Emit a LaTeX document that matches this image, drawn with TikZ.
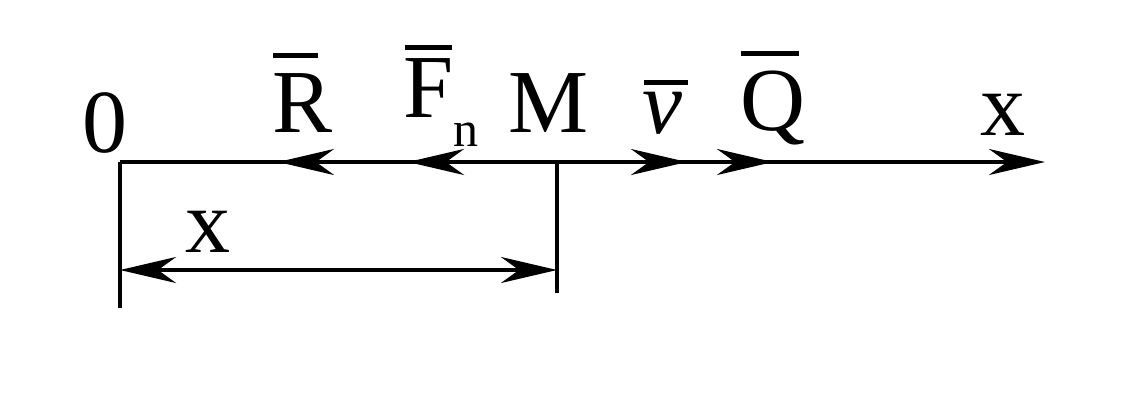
\documentclass[tikz,border=0pt]{standalone}
\usepackage{fontspec}
\setmainfont{Liberation Serif}
\usetikzlibrary{arrows.meta}
\newcommand{\ovbar}[4]{\leavevmode\rlap{\hspace*{#1}\raisebox{#2}{\rule{#3}{2.5pt}}}#4}
\begin{document}
\begin{tikzpicture}[x=0.5pt,y=-0.5pt,
  tip/.style={-{Stealth[length=28pt,width=13pt,inset=9pt]}},
  dtip/.style={{Stealth[length=28pt,width=13pt,inset=9pt]}-{Stealth[length=28pt,width=13pt,inset=9pt]}},
  ln/.style={line width=2pt},
  lbl/.style={inner sep=0pt,anchor=base,font=\fontsize{45}{54}\selectfont}]
\useasboundingbox (0,0) rectangle (1137,409);
\coordinate (O) at (120,162);
\coordinate (M) at (557,162);
\coordinate (E) at (1045,162);
\coordinate (Ob) at (120,308);
\coordinate (Mb) at (557,293);
\coordinate (D1) at (120,270);
\coordinate (D2) at (557,270);
\coordinate (Rt) at (278,162);
\coordinate (Ft) at (408,162);
\coordinate (Vt) at (687,162);
\coordinate (Qt) at (773,162);
% axis and verticals
\draw[ln,tip] (O) -- (E);
\draw[ln] (O) -- (Ob);
\draw[ln] (M) -- (Mb);
% vectors
\draw[ln,tip] (M) -- (Rt);
\draw[ln,tip] (M) -- (Ft);
\draw[ln,tip] (M) -- (Vt);
\draw[ln,tip] (M) -- (Qt);
% dimension
\draw[ln,dtip] (D1) -- (D2);
% labels
\node[lbl] (zero) at (105,152) {0};
\node[lbl] (R) at (303,132) {\ovbar{0pt}{37pt}{22.5pt}{R}};
\node[lbl,anchor=base west] (F) at (403,117) {\ovbar{1pt}{33.5pt}{23.5pt}{F}\raisebox{-14.5pt}{\fontsize{25}{30}\selectfont n}};
\node[lbl] (Mlbl) at (549,132) {M};
\node[lbl] (V) at (662,133) {\ovbar{1pt}{24pt}{22pt}{\itshape v}};
\node[lbl] (Q) at (773,130) {\ovbar{0pt}{37pt}{29pt}{Q}};
\node[lbl] (xa) at (1003,135) {x};
\node[lbl] (xb) at (208,252) {x};
\end{tikzpicture}
\end{document}
